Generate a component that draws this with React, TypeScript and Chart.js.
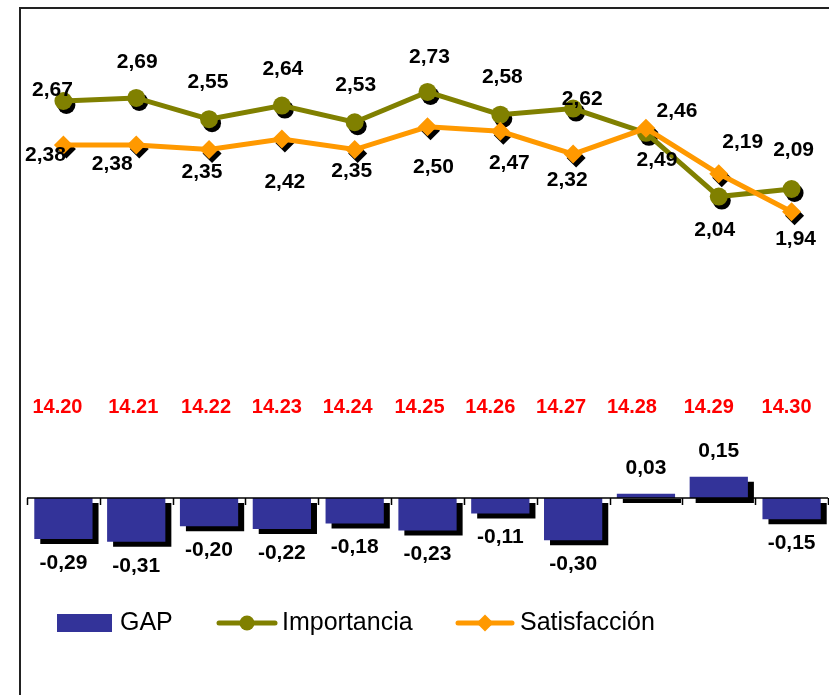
import React, { useEffect, useRef } from 'react';
import { Chart, registerables } from 'chart.js';

Chart.register(...registerables);

// ---------- data ----------
const CATEGORIES = ['14.20', '14.21', '14.22', '14.23', '14.24', '14.25', '14.26', '14.27', '14.28', '14.29', '14.30'];
const GAP = [-0.29, -0.31, -0.2, -0.22, -0.18, -0.23, -0.11, -0.3, 0.03, 0.15, -0.15];
const IMPORTANCIA = [2.67, 2.69, 2.55, 2.64, 2.53, 2.73, 2.58, 2.62, 2.46, 2.04, 2.09];
const SATISFACCION = [2.38, 2.38, 2.35, 2.42, 2.35, 2.5, 2.47, 2.32, 2.49, 2.19, 1.94];
const SERIES_NAMES = ['GAP', 'Importancia', 'Satisfacción'];

// ---------- layout / style ----------
const IMP_LABEL_OFFSETS = [[-11, -11], [1, -36], [-1, -37], [1, -36], [1, -37], [2, -35], [2, -37], [9, -9], [31, -22], [-4, 34], [2, -39]];
const SAT_LABEL_OFFSETS = [[-18, 10], [-24, 19], [-7, 23], [3, 43], [-3, 22], [6, 40], [9, 32], [-6, 26], [11, 32], [24, -32], [4, 27]];
const CAT_LABEL_DX = [-6, -3, -3, -5, -7, -8, -10, -12, -14, -10, -5];

const COLORS = { gap: '#333399', imp: '#808000', sat: '#FF9900', cat: '#FF0000', text: '#000000' };
const FONT = '"Liberation Sans", Arial, Helvetica, sans-serif';
const W = 829;
const H = 695;

const fmt = (v: number) => v.toFixed(2).replace('.', ',');

function diamond(ctx: CanvasRenderingContext2D, x: number, y: number, r: number) {
  ctx.beginPath();
  ctx.moveTo(x, y - r);
  ctx.lineTo(x + r, y);
  ctx.lineTo(x, y + r);
  ctx.lineTo(x - r, y);
  ctx.closePath();
}

const decorPlugin = {
  id: 'decor',
  beforeDatasetsDraw(chart: any) {
    const ctx: CanvasRenderingContext2D = chart.ctx;
    // marker shadows
    [1, 2].forEach((di) => {
      const meta = chart.getDatasetMeta(di);
      meta.data.forEach((pt: any) => {
        ctx.save();
        ctx.fillStyle = '#000';
        const x = pt.x + 3;
        const y = pt.y + 4;
        if (di === 1) {
          ctx.beginPath();
          ctx.arc(x, y, 9, 0, Math.PI * 2);
          ctx.fill();
        } else {
          diamond(ctx, x, y, 9.5);
          ctx.fill();
        }
        ctx.restore();
      });
    });
  },
  beforeDatasetDraw(chart: any, args: any) {
    if (args.index === 0) {
      const ctx: CanvasRenderingContext2D = chart.ctx;
      ctx.save();
      ctx.shadowColor = '#000';
      ctx.shadowOffsetX = 6;
      ctx.shadowOffsetY = 5;
      ctx.shadowBlur = 0;
    }
  },
  afterDatasetDraw(chart: any, args: any) {
    if (args.index === 0) chart.ctx.restore();
  },
  afterDatasetsDraw(chart: any) {
    const ctx: CanvasRenderingContext2D = chart.ctx;
    const xs = chart.scales.x;
    const ys = chart.scales.y;
    const area = chart.chartArea;

    // zero axis with tick marks
    const y0 = ys.getPixelForValue(0);
    ctx.save();
    ctx.strokeStyle = '#000';
    ctx.lineWidth = 1.5;
    ctx.beginPath();
    ctx.moveTo(area.left, y0);
    ctx.lineTo(area.right, y0);
    const cw = (area.right - area.left) / CATEGORIES.length;
    for (let i = 0; i <= CATEGORIES.length; i++) {
      const tx = Math.round(area.left + i * cw) + 0.5;
      ctx.moveTo(tx, y0);
      ctx.lineTo(tx, y0 + 7);
    }
    ctx.stroke();
    ctx.restore();

    // value labels
    ctx.save();
    ctx.fillStyle = COLORS.text;
    ctx.font = `bold 21px ${FONT}`;
    ctx.textAlign = 'center';
    ctx.textBaseline = 'middle';
    const barMeta = chart.getDatasetMeta(0);
    barMeta.data.forEach((b: any, i: number) => {
      const v = GAP[i];
      const ly = v < 0 ? b.y + 24 : b.y - 26;
      ctx.fillText(fmt(v), b.x, ly);
    });
    const impMeta = chart.getDatasetMeta(1);
    impMeta.data.forEach((p: any, i: number) => {
      const [dx, dy] = IMP_LABEL_OFFSETS[i];
      ctx.fillText(fmt(IMPORTANCIA[i]), p.x + dx, p.y + dy);
    });
    const satMeta = chart.getDatasetMeta(2);
    satMeta.data.forEach((p: any, i: number) => {
      const [dx, dy] = SAT_LABEL_OFFSETS[i];
      ctx.fillText(fmt(SATISFACCION[i]), p.x + dx, p.y + dy);
    });

    // category labels (red)
    ctx.fillStyle = COLORS.cat;
    ctx.font = `bold 20px ${FONT}`;
    CATEGORIES.forEach((c, i) => {
      ctx.fillText(c, xs.getPixelForValue(i) + CAT_LABEL_DX[i], 407);
    });
    ctx.restore();

    // legend
    ctx.save();
    const ly = 623;
    ctx.fillStyle = COLORS.gap;
    ctx.fillRect(57, 614, 55, 18);
    ctx.fillStyle = COLORS.text;
    ctx.font = `25px ${FONT}`;
    ctx.textAlign = 'left';
    ctx.textBaseline = 'middle';
    ctx.fillText(SERIES_NAMES[0], 120, ly);

    ctx.strokeStyle = COLORS.imp;
    ctx.lineWidth = 5;
    ctx.lineCap = 'round';
    ctx.beginPath();
    ctx.moveTo(219, ly);
    ctx.lineTo(275, ly);
    ctx.stroke();
    ctx.fillStyle = COLORS.imp;
    ctx.beginPath();
    ctx.arc(247, ly, 7.5, 0, Math.PI * 2);
    ctx.fill();
    ctx.fillStyle = COLORS.text;
    ctx.fillText(SERIES_NAMES[1], 282, ly);

    ctx.strokeStyle = COLORS.sat;
    ctx.beginPath();
    ctx.moveTo(458, ly);
    ctx.lineTo(512, ly);
    ctx.stroke();
    ctx.fillStyle = COLORS.sat;
    diamond(ctx, 485, ly, 8.5);
    ctx.fill();
    ctx.fillStyle = COLORS.text;
    ctx.fillText(SERIES_NAMES[2], 520, ly);
    ctx.restore();

    // outer border (left and top)
    ctx.save();
    ctx.strokeStyle = '#222';
    ctx.lineWidth = 2;
    ctx.beginPath();
    ctx.moveTo(20, H);
    ctx.lineTo(20, 8);
    ctx.lineTo(W, 8);
    ctx.stroke();
    ctx.restore();
  },
};

export default function App() {
  const ref = useRef<HTMLCanvasElement | null>(null);
  useEffect(() => {
    if (!ref.current) return;
    const chart = new Chart(ref.current, {
      type: 'bar',
      data: {
        labels: CATEGORIES,
        datasets: [
          {
            type: 'bar',
            label: SERIES_NAMES[0],
            data: GAP,
            backgroundColor: COLORS.gap,
            borderWidth: 0,
            barPercentage: 0.8,
            categoryPercentage: 1.0,
            yAxisID: 'y',
            order: 2,
          },
          {
            type: 'line',
            label: SERIES_NAMES[1],
            data: IMPORTANCIA,
            borderColor: COLORS.imp,
            backgroundColor: COLORS.imp,
            borderWidth: 5,
            pointStyle: 'circle',
            pointRadius: 9,
            pointBorderWidth: 0,
            pointBackgroundColor: COLORS.imp,
            tension: 0,
            fill: false,
            yAxisID: 'y1',
            order: 1,
          },
          {
            type: 'line',
            label: SERIES_NAMES[2],
            data: SATISFACCION,
            borderColor: COLORS.sat,
            backgroundColor: COLORS.sat,
            borderWidth: 5,
            pointStyle: 'rectRot',
            pointRadius: 9.5,
            pointBorderWidth: 0,
            pointBackgroundColor: COLORS.sat,
            tension: 0,
            fill: false,
            yAxisID: 'y1',
            order: 0,
          },
        ] as any,
      },
      options: {
        responsive: false,
        animation: false,
        devicePixelRatio: 1,
        layout: { autoPadding: false, padding: { left: 27, right: 1, top: 20, bottom: 0 } },
        plugins: { legend: { display: false }, tooltip: { enabled: false } },
        scales: {
          x: { type: 'category', display: false, offset: true },
          y: { display: false, min: -1.397, max: 3.39 },
          y1: { display: false, min: -1.2456, max: 3.204 },
        },
      } as any,
      plugins: [decorPlugin as any],
    });
    return () => chart.destroy();
  }, []);
  return (
    <div style={{ position: 'absolute', left: 0, top: 0, width: W, height: H, background: '#fff' }}>
      <canvas ref={ref} width={W} height={H} style={{ display: 'block' }} />
    </div>
  );
}
